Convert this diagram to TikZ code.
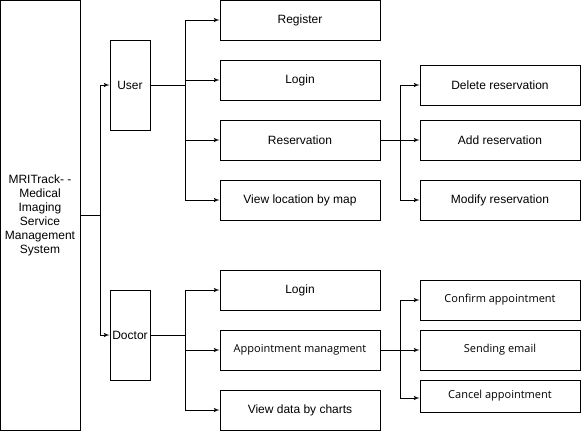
\documentclass[tikz,border=0pt]{standalone}
\usepackage{fontspec}
\setmainfont{Liberation Sans}
\newfontfamily\segoe{Open Sans}
\usepackage{tikz}
\usetikzlibrary{positioning,arrows,calc}
\tikzset{
    block/.style = {
        draw,
        shape=rectangle,
        minimum height=40pt,
        minimum width=160pt,
        inner sep=0pt,
        line width=1pt,
        font=\fontsize{12}{14}\selectfont
    },
    actor/.style = {
        draw,
        shape=rectangle,
        minimum height=90pt,
        minimum width=40pt,
        inner sep=0pt,
        line width=1pt,
        font=\fontsize{12}{14}\selectfont
    },
    system/.style = {
        draw,
        shape=rectangle,
        minimum height=430pt,
        minimum width=80pt,
        inner sep=0pt,
        align=center,
        line width=1pt,
        font=\fontsize{12}{14}\selectfont
    },
    segoebox/.style = {
        block,
        font=\segoe\fontsize{11}{13}\selectfont
    },
    >=latex',
}

\begin{document}
\begin{tikzpicture}[x=1pt,y=-1pt,line width=1pt]
                \useasboundingbox (0,0) rectangle (581,431);

                \node[system] (main) at (40,215) {MRITrack- -\\Medical\\Imaging\\Service\\Management\\System};
                \node[actor] (user) at (130,85) {User};
                \node[actor] (doctor) at (130,335) {Doctor};

                \node[block] (register) at (300,20) {Register};
                \node[block] (ulogin) at (300,80) {Login};
                \node[block] (reservation) at (300,140) {Reservation};
                \node[block] (viewmap) at (300,200) {View location by map};

                \node[block] (delres) at (500,85) {Delete reservation};
                \node[block] (addres) at (500,140) {Add reservation};
                \node[block] (modres) at (500,200) {Modify reservation};

                \node[block] (dlogin) at (300,290) {Login};
                \node[segoebox] (appoint) at (300,350) {Appointment managment};
                \node[block] (viewcharts) at (300,410) {View data by charts};

                \node[segoebox] (confirm) at (500,300) {Confirm appointment};
                \node[segoebox] (sending) at (500,350) {Sending email};
                \node[segoebox, minimum height=32pt] (cancel) at (500,396) {Cancel appointment};

                \path[draw, ->] (main.east) -- ++(20,0) |- (user.west);
                \path[draw, ->] (main.east) -- ++(20,0) |- (doctor.west);

                \path[draw, ->] (user.east) -- ++(35,0) |- (register.west);
                \path[draw, ->] (user.east) -- ++(35,0) |- (ulogin.west);
                \path[draw, ->] (user.east) -- ++(35,0) |- (reservation.west);
                \path[draw, ->] (user.east) -- ++(35,0) |- (viewmap.west);

                \path[draw, ->] (reservation.east) -- ++(20,0) |- (delres.west);
                \path[draw, ->] (reservation.east) -- (addres.west);
                \path[draw, ->] (reservation.east) -- ++(20,0) |- (modres.west);

                \path[draw, ->] (doctor.east) -- ++(35,0) |- (dlogin.west);
                \path[draw, ->] (doctor.east) -- ++(35,0) |- (appoint.west);
                \path[draw, ->] (doctor.east) -- ++(35,0) |- (viewcharts.west);

                \path[draw, ->] (appoint.east) -- ++(20,0) |- (confirm.west);
                \path[draw, ->] (appoint.east) -- (sending.west);
                \path[draw, ->] (appoint.east) -- ++(20,0) |- ($(cancel.west)+(0,2)$);
            \end{tikzpicture}
\end{document}
